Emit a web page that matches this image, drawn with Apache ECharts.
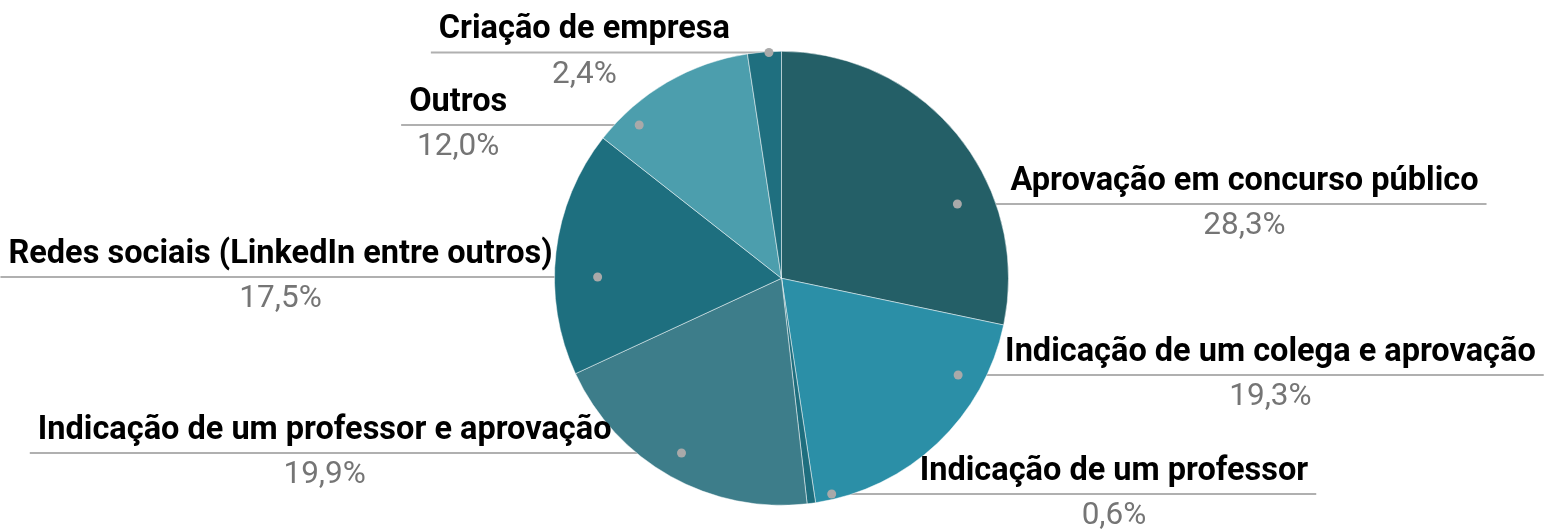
<!DOCTYPE html>
<html>
<head>
<meta charset="utf-8">
<script src="https://cdn.jsdelivr.net/npm/echarts@6/dist/echarts.min.js"></script>
<style>
    html, body {margin: 0; background: #fff;}
    #main {width: 1552px; height: 529px;}
</style>
</head>
<body>
<div id="main"></div>
<script>
var categories = [
    'Aprovação em concurso público',
    'Indicação de um colega e aprovação',
    'Indicação de um professor',
    'Indicação de um professor e aprovação',
    'Redes sociais (LinkedIn entre outros)',
    'Outros',
    'Criação de empresa'
];
var values = [28.3, 19.3, 0.6, 19.9, 17.5, 12.0, 2.4];
var colors = ['#245f67', '#2b8fa7', '#1e6e7e', '#3d7d8a', '#1e6f7f', '#4c9ead', '#1f6f7f'];

// posicao das etiquetas (px)
var guideY = [204, 375, 494, 453, 277, 125, 52.5];
var dotDepth = [0.82, 0.86, 0.71, 0.69, 0.81, 0.85, 0.54];
var textGap = [53, 47, 88, 70, 45, 132, 39];

var CX = 781.5, CY = 278.3, R = 227;
var NAME_SIZE = 32.5;

var ctx = document.createElement('canvas').getContext('2d');
ctx.font = 'bold ' + NAME_SIZE + 'px Roboto';

var total = 0;
values.forEach(function (v) { total += v; });

var dots = [], sides = [], widths = [];
var acc = 0;
for (var i = 0; i < values.length; i++) {
    var mid = (acc + values[i] / 2) / total;
    acc += values[i];
    var side = mid < 0.5 ? 1 : -1;
    var dy = guideY[i] - CY;
    var half = Math.sqrt(Math.max(R * R - dy * dy, 0));
    sides.push(side);
    dots.push([CX + side * dotDepth[i] * half, guideY[i]]);
    widths.push(ctx.measureText(categories[i]).width);
}

var chart = echarts.init(document.getElementById('main'));

var option = {
    animation: false,
    color: colors,
    graphic: dots.map(function (d) {
        return {
            type: 'circle',
            shape: {cx: d[0], cy: d[1], r: 4.5},
            style: {fill: '#a9a9a9'},
            z: 100
        };
    }),
    series: [{
        type: 'pie',
        center: [CX, CY],
        radius: R,
        startAngle: 90,
        clockwise: true,
        avoidLabelOverlap: false,
        itemStyle: {borderColor: 'rgba(255,255,255,0.6)', borderWidth: 0.8},
        emphasis: {disabled: true},
        label: {
            show: true,
            position: 'outside',
            overflow: 'none',
            formatter: function (p) {
                return '{n|' + p.name + '}\n{v|' + p.value.toFixed(1).replace('.', ',') + '%}';
            },
            rich: {
                n: {fontFamily: 'Roboto', fontWeight: 'bold', fontSize: NAME_SIZE, color: '#000', lineHeight: 45, align: 'center'},
                v: {fontFamily: 'Roboto', fontSize: 31.5, color: '#757575', lineHeight: 45, align: 'center'}
            }
        },
        labelLine: {
            show: true,
            lineStyle: {color: '#b0b0b0', width: 2}
        },
        labelLayout: function (params) {
            var i = params.dataIndex;
            var s = sides[i];
            var d = dots[i];
            var inner = d[0] + s * textGap[i];
            var cx = inner + s * widths[i] / 2;
            var end = inner + s * (widths[i] + 8);
            return {
                x: cx,
                y: guideY[i],
                align: 'center',
                verticalAlign: 'middle',
                labelLinePoints: [[d[0], d[1]], [d[0], d[1]], [end, d[1]]]
            };
        },
        data: categories.map(function (c, i) {
            return {name: c, value: values[i]};
        })
    }]
};
chart.setOption(option);
</script>
</body>
</html>
